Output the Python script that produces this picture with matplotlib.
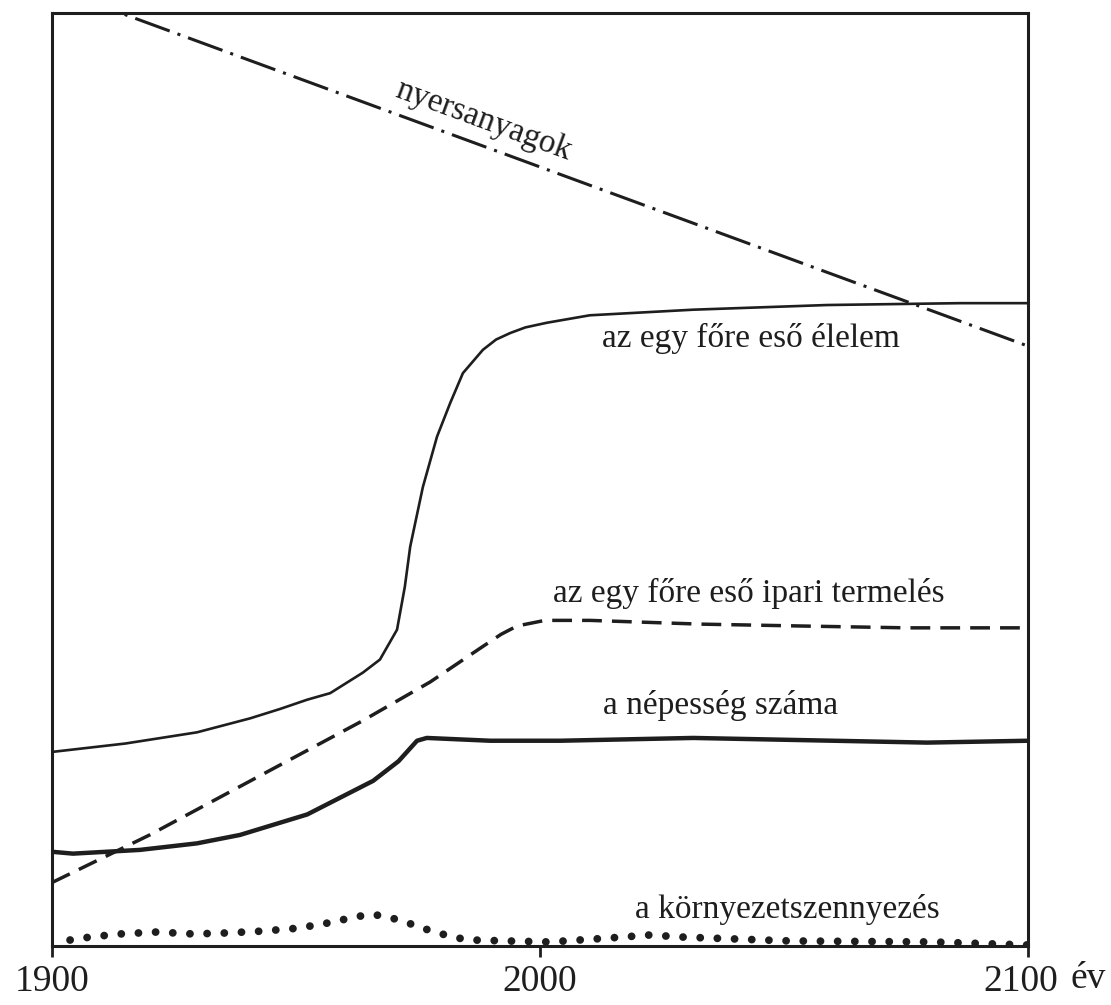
import matplotlib
matplotlib.use('Agg')
import matplotlib.pyplot as plt
import matplotlib.transforms as mtransforms

# values: years on x, relative level 0..100 on y
nyers_ev   = [1900, 2000, 2100]
nyers_ert  = [102.7, 83.5, 64.3]

elelem_ev  = [1900, 1915, 1929.7, 1940.6, 1946.7, 1952.3, 1957, 1963.7, 1967.2, 1970.7,
              1972.3, 1973.4, 1976, 1978.9, 1981.6, 1984.2, 1988.3, 1991, 1993.9, 1997,
              2001.4, 2010.2, 2031.4, 2058.8, 2086.1, 2100]
elelem_ert = [20.8, 21.7, 22.9, 24.4, 25.4, 26.4, 27.1, 29.3, 30.7, 33.9,
              38.5, 42.8, 49.2, 54.6, 58.2, 61.4, 63.9, 65.0, 65.7, 66.3,
              66.8, 67.6, 68.2, 68.7, 68.9, 68.9]

ipar_ev    = [1900, 1920, 1945.3, 1963.5, 1977.5, 1987.7, 1992, 1995.3, 2001, 2010.2,
              2032.8, 2053.3, 2075.2, 2100]
ipar_ert   = [6.8, 11.9, 19.0, 24.1, 28.3, 31.9, 33.4, 34.3, 34.9, 34.9,
              34.5, 34.3, 34.1, 34.1]

nep_ev     = [1900, 1904.3, 1918, 1929.7, 1938.5, 1952.3, 1965.8, 1971, 1974.8, 1976.8,
              1989.8, 2004.1, 2031.4, 2079.3, 2100]
nep_ert    = [10.1, 9.9, 10.3, 11.0, 11.9, 14.1, 17.7, 19.8, 22.0, 22.3,
              22.0, 22.0, 22.3, 21.8, 22.0]

szenny_ev  = [1903.7, 1907.8, 1913.9, 1921.5, 1928.9, 1935.9, 1943.2, 1950.2, 1955.9,
              1962.1, 1965.2, 1968.2, 1972.3, 1975.4, 1979.1, 1983, 1986.3, 1993.2,
              2002, 2014.3, 2022.5, 2029.1, 2051.2, 2080.5, 2099.8]
szenny_ert = [0.64, 0.96, 1.29, 1.5, 1.29, 1.4, 1.6, 1.9, 2.4,
              3.1, 3.4, 3.2, 2.6, 2.0, 1.4, 0.86, 0.64, 0.54,
              0.43, 0.86, 1.18, 0.96, 0.54, 0.43, 0.11]

xticks      = [1900, 2000, 2100]
xticklabels = ['1900', '2000', '2100']

c = '#1e1e1e'
fnt = 'Liberation Serif'

fig = plt.figure(figsize=(11.11, 10.05), dpi=100)
ax = fig.add_axes([52/1111, 59/1005, 976/1111, 933/1005])

ax.plot(nyers_ev, nyers_ert, color=c, lw=2.2, linestyle=(0, (12, 2.7, 1, 2.7)))
ax.plot(elelem_ev, elelem_ert, color=c, lw=1.9, solid_joinstyle='round')
ax.plot(ipar_ev, ipar_ert, color=c, lw=2.5, linestyle=(0, (5.7, 2.9)))
ax.plot(nep_ev, nep_ert, color=c, lw=3.2, solid_joinstyle='round')
ax.plot(szenny_ev, szenny_ert, color=c, lw=5.6, linestyle=(0, (0.01, 2.2)),
        dash_capstyle='round')

ax.set_xlim(1900, 2100)
ax.set_ylim(0, 100)

# labels
ax.text(1988.5, 88.5, 'nyersanyagok', rotation=-20.1, rotation_mode='anchor',
        ha='center', va='center', fontsize=24, family=fnt, color=c)
ax.text(2012.7, 64.2, 'az egy főre eső élelem', ha='left', va='baseline',
        fontsize=24, family=fnt, color=c)
ax.text(2002.7, 36.9, 'az egy főre eső ipari termelés', ha='left', va='baseline',
        fontsize=24, family=fnt, color=c)
ax.text(2012.9, 24.9, 'a népesség száma', ha='left', va='baseline',
        fontsize=24, family=fnt, color=c)
ax.text(2019.5, 3.0, 'a környezetszennyezés', ha='left', va='baseline',
        fontsize=24, family=fnt, color=c)

for s in ax.spines.values():
  s.set_linewidth(2.2)
  s.set_color(c)

ax.set_yticks([])
ax.set_xticks(xticks)
ax.set_xticklabels(xticklabels, family=fnt, fontsize=27, color=c)
ax.tick_params(axis='x', direction='out', length=8, width=2, color=c, pad=5)

# shift the last label a bit to the left, to make room for the unit
lbl = ax.get_xticklabels()[-1]
lbl.set_transform(lbl.get_transform() + mtransforms.ScaledTranslation(-0.07, 0, fig.dpi_scale_trans))

ax.annotate('év', xy=(2100, 0), xycoords='data', xytext=(42, -15),
            textcoords='offset pixels', ha='left', va='top',
            fontsize=27, family=fnt, color=c, annotation_clip=False)

fig.savefig('out.png', dpi=100)
